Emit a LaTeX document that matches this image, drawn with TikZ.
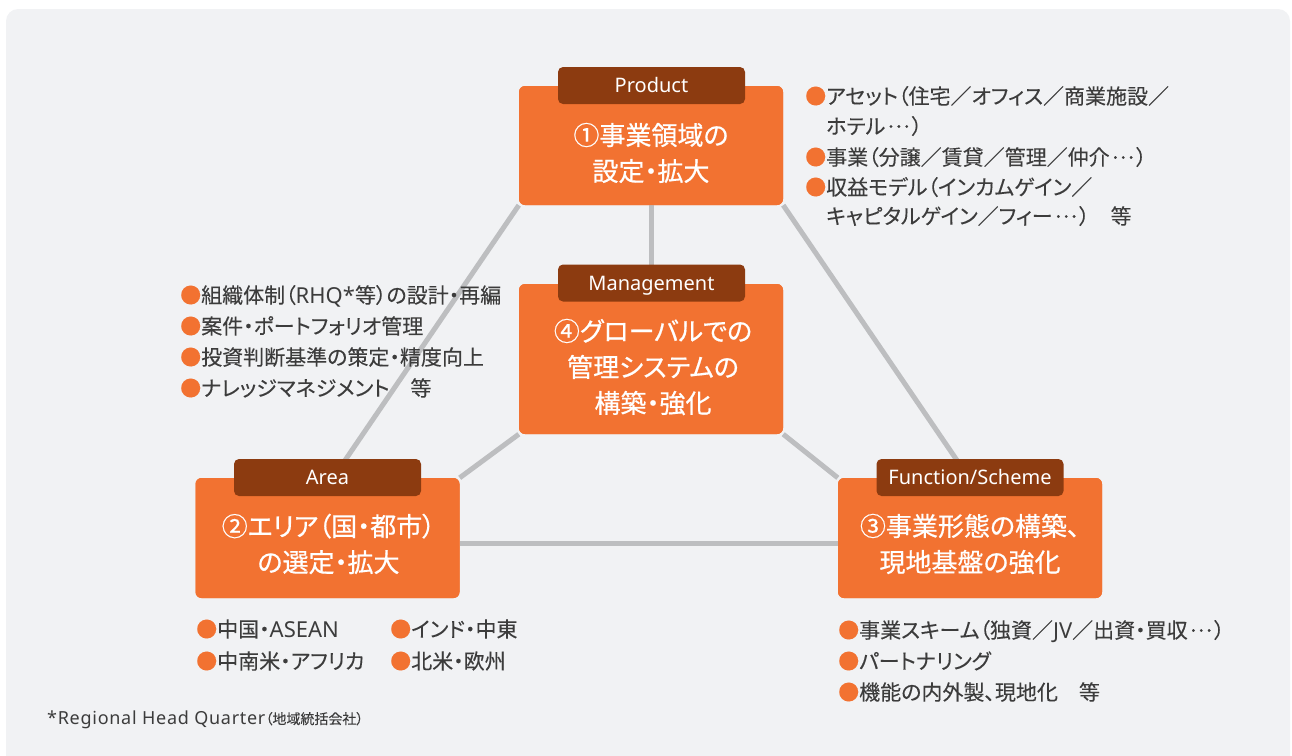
\documentclass[tikz,border=0pt]{standalone}
\usepackage{fontspec}
\setmainfont{Noto Sans CJK JP}[RawFeature=+palt, FakeBold=0.15]
\newfontfamily\titlefont{Noto Sans CJK JP}[RawFeature=+palt, FakeBold=0.6]
\newfontfamily\latf{Noto Sans}
\newfontfamily\latwide{Noto Sans}[LetterSpace=4]
\definecolor{panelbg}{HTML}{F1F2F4}
\definecolor{boxorange}{HTML}{F27231}
\definecolor{tabbrown}{HTML}{8C3B10}
\definecolor{linkgray}{HTML}{BDBEC0}
\definecolor{txtgray}{HTML}{3C3C3C}
\newcommand{\blt}{{\color{boxorange}●}}
\newcommand{\ind}{\hphantom{●}}
\newcommand{\mydots}{\hspace{0.1em}\raisebox{0.3em}{…}\hspace{0.1em}}
\newcommand{\lt}[1]{{\latf\fontsize{22}{24}\selectfont #1}}
\tikzset{
  mainbox/.style={fill=boxorange, rounded corners=6pt, minimum width=264pt, inner sep=0pt},
  tabbox/.style={fill=tabbrown, rounded corners=5pt, minimum width=187pt, minimum height=37pt, inner sep=0pt,
    text=white, font=\latf\fontsize{20}{22}\selectfont, text height=16.3pt, text depth=2pt},
  titletext/.style={text=white, align=center, font=\titlefont\fontsize{26}{36}\selectfont, inner sep=0pt},
  listtext/.style={anchor=base west, text=txtgray, font=\fontsize{21}{24}\selectfont, inner sep=0pt},
  link/.style={draw=linkgray, line width=5pt}
}
\begin{document}
\begin{tikzpicture}[x=1pt,y=-1pt]
\useasboundingbox (0,0) rectangle (1292,755);
\clip (0,0) rectangle (1292,755);
\fill[panelbg, rounded corners=12pt] (6,9) rectangle (1290,800);

% connector end points inside the tabs
\coordinate (aTop) at (333,478);
\coordinate (fTop) at (969,478);

% boxes (placed first so connectors can refer to them)
\node[mainbox, minimum height=119pt] (prod) at (651,145.5) {};
\node[mainbox, minimum height=150pt] (mgmt) at (651,359) {};
\node[mainbox, minimum height=120pt] (area) at (327.5,538) {};
\node[mainbox, minimum height=120pt] (func) at (970,538) {};

% connectors
\draw[link] (prod.south west) -- (aTop);
\draw[link] (prod.south east) -- (fTop);
\draw[link] (prod.south) -- (mgmt.north);
\draw[link] (mgmt.south west) -- (area.north east);
\draw[link] (mgmt.south east) -- (func.north west);
\draw[link] ([yshift=-5pt]area.east) -- ([yshift=-5pt]func.west);

% boxes again, over the connectors
\node[mainbox, minimum height=119pt] (prodF) at (prod) {};
\node[mainbox, minimum height=150pt] (mgmtF) at (mgmt) {};
\node[mainbox, minimum height=120pt] (areaF) at (area) {};
\node[mainbox, minimum height=120pt] (funcF) at (func) {};

\node[tabbox] (prodtab) at (651.5,85.5) {Product};
\node[tabbox] (mgmttab) at (651.5,283) {Management};
\node[tabbox] (areatab) at (327.5,477.5) {Area};
\node[tabbox] (functab) at (970,477.5) {Function/Scheme};

\node[titletext] (prodtitle) at (651,153) {①事業領域の\\設定・拡大};
\node[titletext] (mgmttitle) at (653,367) {④グローバルでの\\管理システムの\\構築・強化};
\node[titletext] (areatitle) at (328.5,544) {②エリア（国・都市）\\の選定・拡大};
\node[titletext] (functitle) at (970,544) {③事業形態の構築、\\現地基盤の強化};

% product list
\node[listtext] (p1) at (805,104) {\blt アセット（住宅／オフィス／商業施設／};
\node[listtext] (p2) at (805,134) {\ind ホテル\mydots）};
\node[listtext] (p3) at (805,165) {\blt 事業（分譲／賃貸／管理／仲介\mydots）};
\node[listtext] (p4) at (805,195) {\blt 収益モデル（インカムゲイン／};
\node[listtext] (p5) at (805,224) {\ind キャピタルゲイン／フィー\mydots）　等};

% management list
\node[listtext] (m1) at (180,303) {\blt 組織体制（\lt{RHQ*}等）の設計・再編};
\node[listtext] (m2) at (180,334) {\blt 案件・ポートフォリオ管理};
\node[listtext] (m3) at (180,365) {\blt 投資判断基準の策定・精度向上};
\node[listtext] (m4) at (180,396) {\blt ナレッジマネジメント　等};

% area list
\node[listtext] (a1) at (196,637) {\blt 中国・\lt{ASEAN}};
\node[listtext] (a2) at (390,637) {\blt インド・中東};
\node[listtext] (a3) at (196,669) {\blt 中南米・アフリカ};
\node[listtext] (a4) at (390,669) {\blt 北米・欧州};

% function list
\node[listtext] (f1) at (838,638) {\blt 事業スキーム（独資／\lt{JV}／出資・買収\mydots）};
\node[listtext] (f2) at (838,669) {\blt パートナリング};
\node[listtext] (f3) at (838,700) {\blt 機能の内外製、現地化　等};

\node[anchor=base west, text=txtgray, inner sep=0pt] (note) at (47,724)
  {{\latwide\fontsize{18}{18}\selectfont *Regional Head Quarter}{\fontsize{14}{18}\selectfont（地域統括会社）}};
\end{tikzpicture}
\end{document}
